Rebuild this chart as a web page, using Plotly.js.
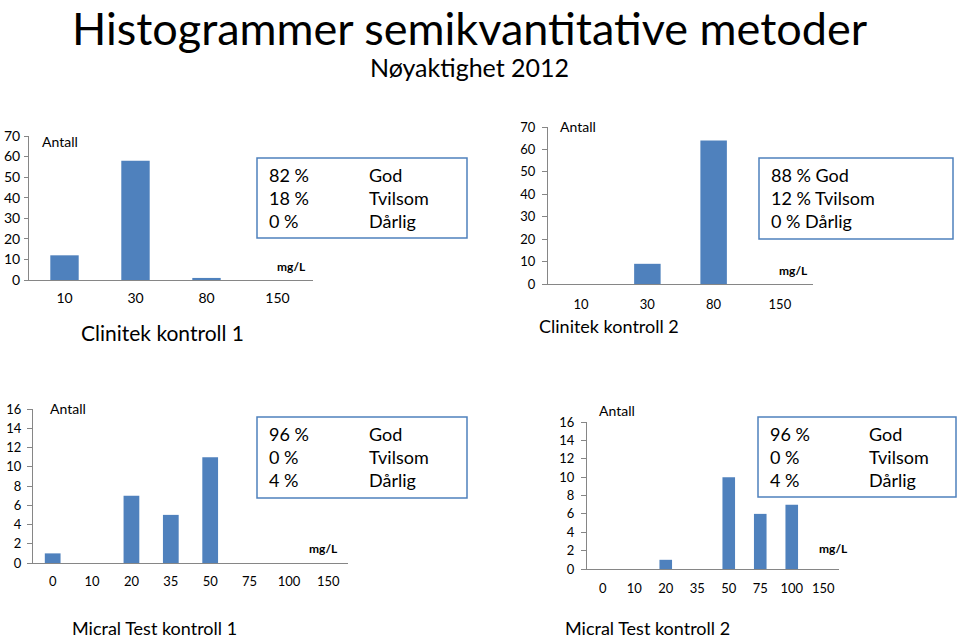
<!DOCTYPE html>
<html><head><meta charset="utf-8">
<script src="https://cdn.plot.ly/plotly-3.0.1.min.js"></script>
<style>body{margin:0;background:#fff}#c{width:960px;height:638px}</style>
</head><body><div id="c"></div>
<script>
// ---- data ----
const clinitekCats = ['10','30','80','150'];
const clinitek1 = [12, 58, 1, 0];
const clinitek2 = [0, 9, 64, 0];
const micralCats = ['0','10','20','35','50','75','100','150'];
const micral1 = [1, 0, 7, 5, 11, 0, 0, 0];
const micral2 = [0, 0, 1, 0, 10, 6, 7, 0];
const panelTitles = ['Clinitek kontroll 1','Clinitek kontroll 2','Micral Test kontroll 1','Micral Test kontroll 2'];
const gradeLabels = ['God','Tvilsom','Dårlig'];
const pctC1 = ['82 %','18 %','0 %'];
const pctC2 = ['88 %','12 %','0 %'];
const pctM1 = ['96 %','0 %','4 %'];
const pctM2 = ['96 %','0 %','4 %'];
const mainTitle = 'Histogrammer semikvantitative metoder';
const subTitle = 'Nøyaktighet 2012';

// ---- layout helpers ----
const W = 960, H = 638;
const px = x => x / W;
const py = y => 1 - y / H;
const FONT = 'Lato, "Open Sans", sans-serif';
const BLUE = '#4f81bd';

const panels = [
  {cats: clinitekCats, vals: clinitek1, x0: 29, x1: 313, y0: 280, y1: 136, max: 70, dt: 10, tf: 14, xs: 5, ys: 1, tl: 4, pct: pctC1, box: [257,158,467,238], textx: [267,367], texty: 175, title: [162, 332], ts: 21, antall: [40, 142], mgl: [308, 266]},
  {cats: clinitekCats, vals: clinitek2, x0: 548, x1: 813, y0: 284, y1: 127, max: 70, dt: 10, tf: 13, xs: 8, ys: 4, tl: 5, pct: pctC2, box: [759,158,953,239], textx: [769,null], texty: 175, title: [609, 326], ts: 18, antall: [558, 126], mgl: [810, 270]},
  {cats: micralCats, vals: micral1, x0: 33, x1: 348, y0: 563, y1: 409, max: 16, dt: 2, tf: 13, xs: 6, ys: 3, tl: 5, pct: pctM1, box: [257,417,467,498], textx: [267,367], texty: 434, title: [154, 628], ts: 18, antall: [48, 408], mgl: [340, 548]},
  {cats: micralCats, vals: micral2, x0: 587, x1: 839, y0: 569, y1: 422, max: 16, dt: 2, tf: 13, xs: 7, ys: 4, tl: 5, pct: pctM2, box: [758,417,956,497], textx: [768,867], texty: 434, title: [647, 628], ts: 18, antall: [597, 410], mgl: [850, 548]}
];

const traces = [];
const layout = {
  width: W, height: H,
  margin: {l: 0, r: 0, t: 0, b: 0},
  paper_bgcolor: '#fff', plot_bgcolor: 'rgba(0,0,0,0)',
  showlegend: false,
  bargap: 0.6,
  font: {family: FONT, color: '#000'},
  annotations: [], shapes: []
};

layout.annotations.push({xref:'paper', yref:'paper', x: px(470), y: py(28), text: mainTitle, showarrow:false, xanchor:'center', yanchor:'middle', borderpad: 0, font:{size:45, family: FONT, color:'#000'}});
layout.annotations.push({xref:'paper', yref:'paper', x: px(469), y: py(67), text: subTitle, showarrow:false, xanchor:'center', yanchor:'middle', font:{size:25, family: FONT, color:'#000'}});

panels.forEach((p, i) => {
  const n = i + 1;
  const sfx = n === 1 ? '' : String(n);
  traces.push({type: 'bar', x: p.cats, y: p.vals, marker: {color: BLUE}, xaxis: 'x' + sfx, yaxis: 'y' + sfx, hoverinfo: 'none'});
  layout['xaxis' + sfx] = {
    domain: [px(p.x0), px(p.x1)], anchor: 'y' + sfx,
    type: 'category', showgrid: false, zeroline: false,
    showline: true, linecolor: '#868686', linewidth: 1,
    ticks: '', tickfont: {size: p.tf, family: FONT, color: '#000'},
    ticklabelstandoff: p.xs
  };
  layout['yaxis' + sfx] = {
    domain: [py(p.y0), py(p.y1)], anchor: 'x' + sfx,
    range: [0, p.max], dtick: p.dt, showgrid: false, zeroline: false,
    showline: true, linecolor: '#868686', linewidth: 1,
    ticks: 'outside', ticklen: p.tl, tickcolor: '#868686',
    tickfont: {size: p.tf, family: FONT, color: '#000'},
    ticklabelstandoff: p.ys
  };
  layout.shapes.push({type:'rect', xref:'paper', yref:'paper', x0: px(p.box[0]), x1: px(p.box[2]), y0: py(p.box[1]), y1: py(p.box[3]), line:{color: BLUE, width: 1.5}, fillcolor:'rgba(0,0,0,0)'});
  gradeLabels.forEach((g, k) => {
    const yy = py(p.texty + k * 23);
    if (p.textx[1] === null) {
      layout.annotations.push({xref:'paper', yref:'paper', x: px(p.textx[0]), y: yy, text: p.pct[k] + ' ' + g, showarrow:false, xanchor:'left', yanchor:'middle', font:{size:18, family: FONT}});
    } else {
      layout.annotations.push({xref:'paper', yref:'paper', x: px(p.textx[0]), y: yy, text: p.pct[k], showarrow:false, xanchor:'left', yanchor:'middle', font:{size:18, family: FONT}});
      layout.annotations.push({xref:'paper', yref:'paper', x: px(p.textx[1]), y: yy, text: g, showarrow:false, xanchor:'left', yanchor:'middle', font:{size:18, family: FONT}});
    }
  });
  layout.annotations.push({xref:'paper', yref:'paper', x: px(p.title[0]), y: py(p.title[1]), text: panelTitles[i], showarrow:false, xanchor:'center', yanchor:'middle', font:{size:p.ts, family: FONT}});
  layout.annotations.push({xref:'paper', yref:'paper', x: px(p.antall[0]), y: py(p.antall[1]), text: 'Antall', showarrow:false, xanchor:'left', yanchor:'middle', font:{size:14, family: FONT}});
  layout.annotations.push({xref:'paper', yref:'paper', x: px(p.mgl[0]), y: py(p.mgl[1]), text: '<b>mg/L</b>', showarrow:false, xanchor:'right', yanchor:'middle', font:{size:12, family: FONT}});
});

Plotly.newPlot('c', traces, layout, {displayModeBar: false, staticPlot: true});
</script></body></html>
